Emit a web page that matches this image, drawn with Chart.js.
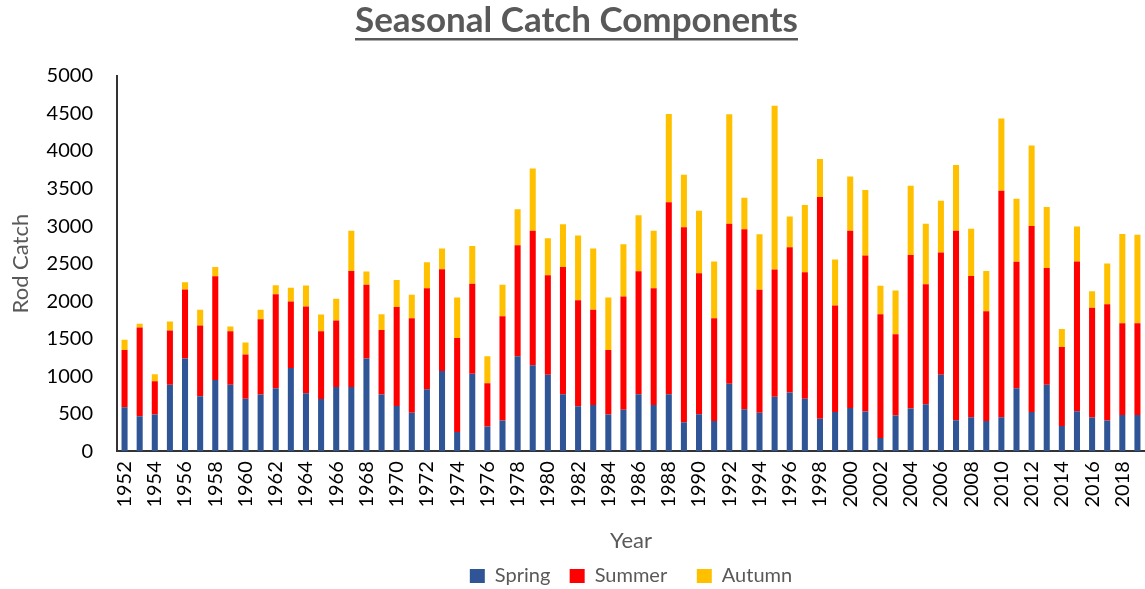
<!DOCTYPE html>
<html>
<head>
<meta charset="utf-8">
<script src="https://cdn.jsdelivr.net/npm/chart.js@4"></script>
<style>
    html, body { margin: 0; padding: 0; background: #fff; }
    #wrap { width: 1145px; height: 589px; }
</style>
</head>
<body>
<div id="wrap"><canvas id="chartCatch" width="1145" height="589"></canvas></div>
<script>
// Años 1952 - 2019
const years = [];
for (let y = 1952; y <= 2019; y++) years.push(String(y));

const spring = [585, 465, 488, 887, 1237, 731, 949, 887, 700, 754,
    838, 1108, 771, 696, 855, 855, 1235, 754, 603, 514,
    825, 1068, 257, 1033, 328, 408, 1264, 1144, 1020, 758,
    599, 616, 488, 554, 758, 616, 758, 386, 492, 403,
    900, 559, 514, 727, 781, 700, 434, 523, 576, 528,
    177, 475, 568, 625, 1020, 412, 452, 403, 452, 838,
    523, 887, 337, 532, 448, 408, 483, 483];

const summer = [763, 1184, 443, 722, 918, 945, 1383, 713, 590, 1006,
    1254, 887, 1157, 904, 887, 1548, 982, 860, 1317, 1259,
    1347, 1357, 1250, 1197, 576, 1392, 1480, 1795, 1325, 1698,
    1413, 1268, 860, 1508, 1640, 1556, 2558, 2597, 1879, 1370,
    2132, 2398, 1636, 1694, 1936, 1685, 2953, 1419, 2363, 2079,
    1649, 1085, 2048, 1600, 1627, 2527, 1884, 1463, 3019, 1685,
    2479, 1556, 1050, 1995, 1463, 1551, 1223, 1223];

const autumn = [138, 49, 93, 120, 97, 208, 124, 62, 160, 124,
    120, 182, 280, 222, 289, 536, 177, 212, 363, 311,
    346, 275, 541, 506, 360, 417, 479, 829, 492, 567,
    861, 816, 700, 695, 745, 767, 1179, 701, 834, 754,
    1459, 421, 740, 2181, 409, 896, 506, 612, 723, 874,
    378, 581, 922, 807, 691, 874, 630, 537, 962, 842,
    1072, 811, 240, 466, 221, 541, 1189, 1180];

const FONT = 'Lato, "Open Sans", sans-serif';
const GRIS = '#595959';

// Subrayado del título
const underlineTitle = {
    id: 'underlineTitle',
    afterDraw(chart) {
        const t = chart.titleBlock;
        if (!t) return;
        const ctx = chart.ctx;
        const opts = chart.options.plugins.title;
        ctx.save();
        ctx.font = `bold ${opts.font.size}px ${FONT}`;
        const w = ctx.measureText(opts.text).width;
        const cx = (t.left + t.right) / 2;
        const y = t.top + opts.padding.top + opts.font.size * 1.12;
        ctx.strokeStyle = GRIS;
        ctx.lineWidth = 2.5;
        ctx.beginPath();
        ctx.moveTo(cx - w / 2, y);
        ctx.lineTo(cx + w / 2, y);
        ctx.stroke();
        ctx.restore();
    }
};

// Espacios extra tras cada etiqueta de la leyenda
const legendGaps = ['   ', '     ', ''];

const ctx = document.getElementById('chartCatch').getContext('2d');
new Chart(ctx, {
    type: 'bar',
    data: {
        labels: years,
        datasets: [
            { label: 'Spring', data: spring, backgroundColor: '#2F5597' },
            { label: 'Summer', data: summer, backgroundColor: '#FF0000' },
            { label: 'Autumn', data: autumn, backgroundColor: '#FFC000' }
        ]
    },
    options: {
        responsive: false,
        animation: false,
        layout: { padding: { left: 8, right: 0, top: 0, bottom: -7 } },
        datasets: {
            bar: { categoryPercentage: 1, barPercentage: 0.4, borderWidth: 0 }
        },
        plugins: {
            title: {
                display: true,
                text: 'Seasonal Catch Components',
                color: GRIS,
                font: { family: FONT, size: 35, weight: 'bold' },
                padding: { top: 0, bottom: 34 }
            },
            legend: {
                position: 'bottom',
                fullSize: false,
                labels: {
                    color: GRIS,
                    font: { family: FONT, size: 20 },
                    boxWidth: 15,
                    boxHeight: 14,
                    padding: 4,
                    generateLabels(chart) {
                        const items = Chart.defaults.plugins.legend.labels.generateLabels(chart);
                        items.forEach((it, i) => { it.text = it.text + (legendGaps[i] || ''); });
                        return items;
                    }
                }
            },
            tooltip: { enabled: false }
        },
        scales: {
            x: {
                stacked: true,
                grid: { display: false, drawTicks: false },
                border: { display: true, color: '#333', width: 2 },
                afterFit(scale) {
                    scale.paddingLeft = 0;
                    scale.paddingRight = 0;
                },
                ticks: {
                    autoSkip: false,
                    maxRotation: 90,
                    minRotation: 90,
                    padding: 10,
                    color: '#000',
                    font: { family: FONT, size: 20 },
                    callback: function (val, i) {
                        return i % 2 === 0 ? this.getLabelForValue(val) : '';
                    }
                },
                title: {
                    display: true,
                    text: 'Year',
                    color: GRIS,
                    font: { family: FONT, size: 22 },
                    padding: { top: 10, bottom: 8 }
                }
            },
            y: {
                stacked: true,
                min: 0,
                max: 5000,
                grid: { display: false, drawTicks: false },
                border: { display: true, color: '#333', width: 2 },
                afterFit(scale) {
                    scale.width = 109;
                },
                ticks: {
                    stepSize: 500,
                    padding: 24,
                    color: '#000',
                    font: { family: FONT, size: 20 },
                    callback: v => String(v)
                },
                title: {
                    display: true,
                    text: 'Rod Catch',
                    color: GRIS,
                    font: { family: FONT, size: 22 },
                    padding: { top: 0, bottom: 10 }
                }
            }
        }
    },
    plugins: [underlineTitle]
});
</script>
</body>
</html>
